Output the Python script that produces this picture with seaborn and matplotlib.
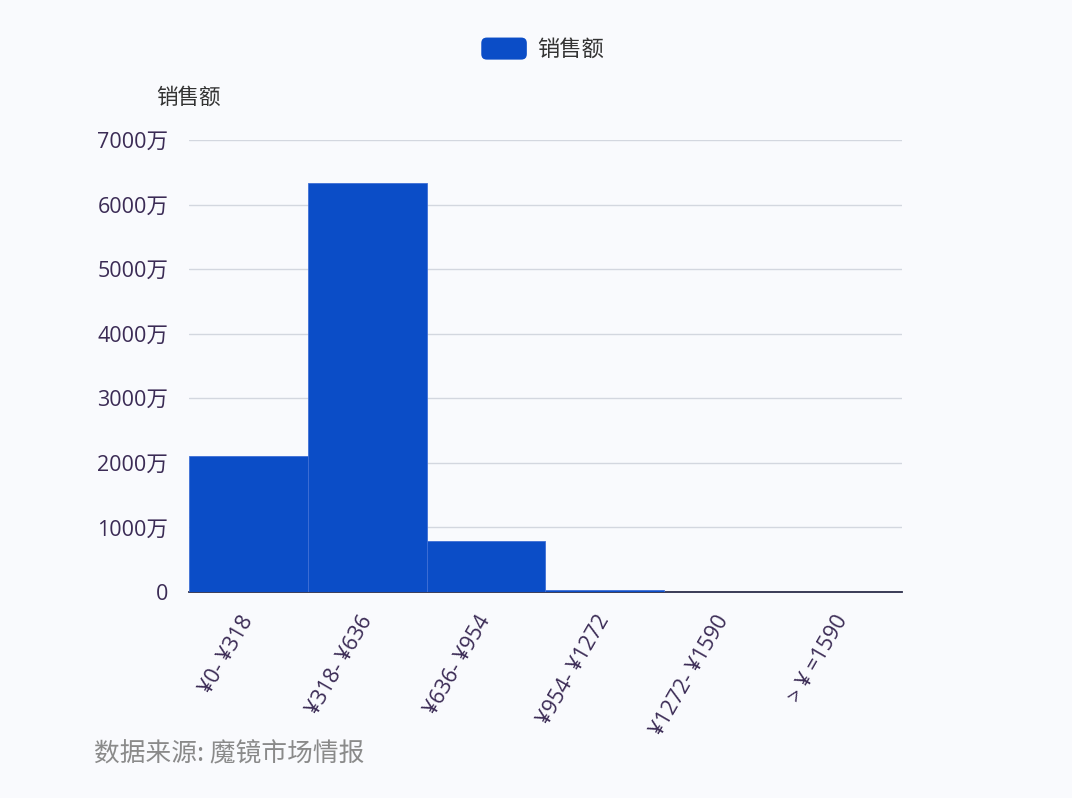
import matplotlib.pyplot as plt
import pandas as pd
import seaborn as sns
from matplotlib.legend_handler import HandlerPatch
from matplotlib.patches import FancyBboxPatch, Patch

# price bands and sales (unit: 万)
categories = ['¥0- ¥318', '¥318- ¥636', '¥636- ¥954', '¥954- ¥1272', '¥1272- ¥1590', '> ¥ =1590']
sales = [2100, 6330, 790, 25, 3, 1]
yticks = [0, 1000, 2000, 3000, 4000, 5000, 6000, 7000]

df = pd.DataFrame({'band': categories, 'sales': sales})

sns.set_style("white")
plt.rcParams['font.family'] = ['Noto Sans CJK SC', 'DejaVu Sans']
latin = ['Open Sans', 'Noto Sans CJK SC']

bg = '#f9fafd'
bar_color = '#0b4dc7'
label_color = '#3b2b55'


class RoundHandler(HandlerPatch):
    def create_artists(self, legend, orig_handle, xdescent, ydescent, width, height, fontsize, trans):
        p = FancyBboxPatch((-xdescent, -ydescent), width, height,
                           boxstyle='round,pad=0,rounding_size=4',
                           facecolor=orig_handle.get_facecolor(), edgecolor='none', transform=trans)
        return [p]


fig = plt.figure(figsize=(10.72, 7.98), dpi=100)
fig.patch.set_facecolor(bg)
ax = fig.add_axes([0.1763, 0.2581, 0.6651, 0.5665])
ax.set_facecolor(bg)

sns.barplot(data=df, x='band', y='sales', color=bar_color, width=1.0,
            saturation=1, edgecolor='#3f6fd6', linewidth=0.6,
            legend=False, ax=ax, zorder=3)

ax.set_xlim(-0.5, len(categories) - 0.5)
ax.set_ylim(0, 7000)
ax.set_yticks(yticks)
ax.set_yticklabels(['0'] + [f'{v}万' for v in yticks[1:]], fontsize=15.5,
                   color=label_color, family=latin)
ax.yaxis.grid(True, color='#d3d7df', linewidth=1, zorder=0)
ax.tick_params(axis='y', length=0, pad=15)

# category labels centred, tick marks on the boundaries
ax.set_xticks(range(len(categories)))
ax.set_xticklabels(categories, rotation=60, ha='right', va='center',
                   rotation_mode='anchor', fontsize=15.5, color=label_color, family=latin)
ax.tick_params(axis='x', which='major', length=0, pad=18)
ax.set_xticks([i - 0.5 for i in range(len(categories) + 1)], minor=True)
ax.tick_params(axis='x', which='minor', length=6, width=1.2, color='#2b2d4a', direction='out')

for s in ['top', 'right', 'left']:
    ax.spines[s].set_visible(False)
ax.spines['bottom'].set_color('#2b2d4a')
ax.spines['bottom'].set_linewidth(1.3)
ax.set_xlabel('')
ax.set_ylabel('')

fig.text(0.1754, 0.878, '销售额', fontsize=15.5, color='#333333', ha='center', va='center')

handle = Patch(facecolor=bar_color, label='销售额')
leg = fig.legend([handle], ['销售额'], loc='upper center', bbox_to_anchor=(0.506, 0.978),
                 frameon=False, fontsize=16, handlelength=2.05, handleheight=1.15,
                 handletextpad=0.45, handler_map={Patch: RoundHandler()})
for t in leg.get_texts():
    t.set_color('#333333')

fig.text(0.088, 0.054, '数据来源: 魔镜市场情报', fontsize=18.5, color='#8a8a8a',
         ha='left', va='center')

fig.savefig('out.png', dpi=100, facecolor=bg)
